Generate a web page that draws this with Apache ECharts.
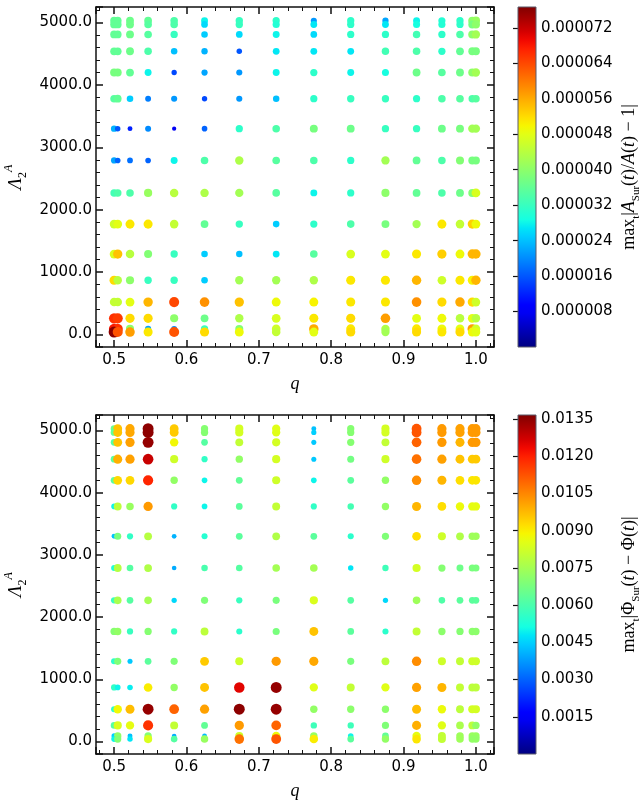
<!DOCTYPE html>
<html>
<head>
<meta charset="utf-8"/>
<title>Surrogate errors</title>
<script src="https://cdn.jsdelivr.net/npm/echarts@6/dist/echarts.min.js"></script>
<style>
    html, body { margin: 0; padding: 0; background: #fff; }
    #main { width: 640px; height: 800px; }
</style>
</head>
<body>
<div id="main"></div>
<script>
// mass ratio columns
var qValues = [0.5, 0.505, 0.522, 0.547, 0.583, 0.625, 0.673, 0.724, 0.776, 0.827, 0.875, 0.918, 0.953, 0.978, 0.995, 1.0];
// tidal deformability rows, top to bottom
var lambdaValues = [5030, 4970, 4810, 4540, 4200, 3780, 3300, 2790, 2270, 1770, 1290, 870, 520, 260, 90, 40];

// max|A_Sur/A - 1|, in units of 1e-6 (one row per lambda value)
var ampErr = [
    [36, 36, 37, 36, 34, 28, 32, 31, 21, 31, 22, 28, 30, 31, 40, 41],
    [36, 36, 37, 35, 34, 26, 32, 30, 27, 31, 27, 29, 30, 31, 38, 40],
    [36, 36, 37, 35, 32, 25, 26, 28, 26, 31, 31, 33, 31, 34, 40, 42],
    [36, 36, 37, 34, 24, 23, 16, 27, 27, 27, 33, 34, 31, 36, 38, 38],
    [38, 38, 36, 28, 15, 22, 21, 28, 31, 28, 29, 37, 35, 37, 40, 42],
    [35, 36, 25, 19, 21, 15, 21, 24, 31, 32, 32, 31, 34, 35, 34, 35],
    [23, 16, 12, 20, 8, 17, 31, 34, 38, 37, 32, 32, 37, 38, 42, 42],
    [22, 17, 18, 17, 28, 34, 43, 35, 34, 31, 42, 36, 34, 39, 38, 38],
    [33, 34, 34, 41, 44, 43, 42, 35, 28, 31, 40, 36, 34, 37, 39, 47],
    [46, 48, 51, 51, 45, 36, 32, 25, 31, 34, 38, 42, 51, 45, 53, 49],
    [47, 54, 44, 39, 32, 25, 24, 27, 35, 47, 48, 51, 53, 49, 55, 55],
    [52, 44, 40, 32, 32, 25, 42, 42, 43, 51, 51, 55, 46, 51, 50, 55],
    [45, 45, 48, 55, 64, 58, 54, 49, 50, 51, 51, 58, 52, 56, 52, 46],
    [66, 65, 52, 52, 40, 37, 43, 47, 51, 52, 57, 48, 49, 44, 48, 44],
    [68, 66, 40, 22, 20, 32, 39, 46, 56, 51, 43, 51, 49, 48, 57, 46],
    [76, 63, 57, 51, 63, 52, 49, 45, 48, 52, 42, 52, 51, 52, 49, 48]
];

// max|Phi_Sur - Phi|, in units of 1e-3
var phaseErr = [
    [6.5, 9.6, 10.0, 13.5, 9.5, 7.0, 8.3, 8.5, 4.3, 7.0, 8.3, 11.2, 10.2, 10.1, 10.2, 10.2],
    [6.4, 9.6, 10.0, 13.5, 9.5, 7.0, 8.3, 8.5, 4.5, 7.0, 8.3, 11.2, 10.2, 10.1, 10.2, 10.2],
    [6.2, 9.6, 10.1, 13.4, 8.8, 6.2, 8.0, 8.3, 4.4, 7.0, 8.0, 11.0, 10.2, 9.8, 10.2, 10.2],
    [6.3, 9.9, 10.1, 12.8, 8.2, 5.6, 7.2, 8.3, 4.4, 6.7, 8.2, 10.8, 10.1, 9.6, 9.5, 9.5],
    [6.3, 9.3, 9.3, 11.9, 7.2, 5.0, 6.4, 8.2, 5.0, 6.3, 7.2, 10.4, 9.8, 9.2, 9.1, 9.1],
    [5.0, 7.9, 7.3, 10.2, 5.6, 5.0, 6.3, 8.0, 5.6, 5.9, 7.2, 9.8, 9.2, 8.7, 8.6, 8.6],
    [4.3, 6.8, 5.6, 7.8, 4.1, 5.4, 6.3, 7.7, 6.3, 5.5, 6.9, 9.2, 8.2, 7.7, 7.4, 7.4],
    [5.3, 7.8, 6.2, 7.7, 4.0, 6.0, 6.2, 7.5, 7.5, 4.8, 5.8, 8.3, 7.0, 6.6, 6.8, 6.8],
    [5.7, 7.6, 6.2, 7.5, 4.6, 6.9, 5.7, 6.8, 8.4, 6.2, 4.6, 7.4, 6.1, 6.3, 6.3, 6.3],
    [7.0, 7.2, 5.7, 7.0, 5.6, 7.9, 5.5, 6.8, 9.6, 6.3, 5.5, 8.0, 7.1, 7.0, 7.1, 7.1],
    [5.5, 6.9, 4.4, 6.3, 6.9, 9.5, 8.2, 10.2, 10.0, 6.8, 7.9, 10.4, 8.2, 8.0, 8.2, 8.2],
    [5.6, 5.0, 4.9, 9.0, 7.2, 9.6, 12.5, 13.4, 8.5, 8.0, 8.5, 10.1, 9.8, 8.0, 7.9, 7.9],
    [5.5, 8.8, 9.7, 13.4, 11.0, 10.1, 13.5, 13.4, 7.2, 7.1, 7.1, 9.7, 8.7, 7.9, 8.3, 8.3],
    [6.2, 8.4, 8.6, 11.7, 8.0, 6.4, 10.2, 11.0, 5.8, 5.8, 6.9, 9.9, 8.5, 7.6, 7.9, 7.2],
    [4.5, 7.2, 4.3, 7.0, 4.0, 4.2, 8.2, 8.7, 7.3, 5.0, 6.4, 8.6, 8.0, 7.4, 7.3, 7.3],
    [5.0, 7.0, 4.8, 8.4, 6.2, 7.3, 10.8, 11.2, 9.0, 6.3, 7.2, 9.1, 8.0, 7.4, 7.2, 7.2]
];

// colorbar ranges and tick steps
var ampRange = [0, 0.0000767];
var ampStep = 0.000008;
var phaseRange = [0, 0.01366];
var phaseStep = 0.0015;

var qRange = [0.475, 1.025];
var lambdaRange = [-200, 5250];

// matplotlib jet colormap
function interp(t, pts) {
    for (var i = 1; i < pts.length; i++) {
        if (t <= pts[i][0]) {
            var a = pts[i - 1], b = pts[i];
            return a[1] + (b[1] - a[1]) * (t - a[0]) / (b[0] - a[0]);
        }
    }
    return pts[pts.length - 1][1];
}
function jet(t) {
    var r = interp(t, [[0, 0], [0.35, 0], [0.66, 1], [0.89, 1], [1, 0.5]]);
    var g = interp(t, [[0, 0], [0.125, 0], [0.375, 1], [0.64, 1], [0.91, 0], [1, 0]]);
    var b = interp(t, [[0, 0.5], [0.11, 1], [0.34, 1], [0.65, 0], [1, 0]]);
    return 'rgb(' + Math.round(r * 255) + ',' + Math.round(g * 255) + ',' + Math.round(b * 255) + ')';
}
var jetColors = [], jetStops = [];
for (var k = 0; k <= 40; k++) {
    jetColors.push(jet(k / 40));
    jetStops.push({offset: k / 40, color: jet(k / 40)});
}

function buildPoints(vals, unit) {
    var pts = [];
    for (var i = 0; i < lambdaValues.length; i++) {
        for (var j = 0; j < qValues.length; j++) {
            pts.push([qValues[j], lambdaValues[i], vals[i][j] * unit]);
        }
    }
    return pts;
}

// marker area grows with the error (as plt.scatter s=...)
function ampSize(d) { return Math.sqrt(Math.max(1.5 * d[2] * 1e6 + 6, 12)); }
function phaseSize(d) { return Math.sqrt(Math.max(10.4 * d[2] * 1e3 - 20, 14)); }

// colorbar: one rect from range[0] to range[1], placed by the axes
function colorbarItem(params, api) {
    var p0 = api.coord([0, api.value(1)]);
    var p1 = api.coord([1, api.value(2)]);
    return {
        type: 'rect',
        shape: {x: p0[0], y: p1[1], width: p1[0] - p0[0], height: p0[1] - p1[1]},
        style: {
            fill: new echarts.graphic.LinearGradient(0, 1, 0, 0, jetStops),
            stroke: '#5a5a6a', lineWidth: 1
        }
    };
}

var tickFont = {fontFamily: 'DejaVu Sans', fontSize: 15, color: '#000'};
var lineStyle = {color: '#111', width: 1.5};

function xAxes(gridIndex) {
    var base = {
        type: 'value', gridIndex: gridIndex, min: qRange[0], max: qRange[1],
        axisLine: {show: true, onZero: false, lineStyle: lineStyle},
        axisTick: {show: true, inside: true, length: 7, lineStyle: {color: '#111', width: 1.5}},
        minorTick: {show: true, splitNumber: 5, length: 4, lineStyle: {color: '#111', width: 1}},
        splitLine: {show: false}
    };
    var bottom = Object.assign({}, base, {
        position: 'bottom',
        name: 'q', nameLocation: 'middle', nameGap: 28,
        nameTextStyle: {fontFamily: 'Liberation Serif', fontStyle: 'italic', fontSize: 18, color: '#000'},
        axisLabel: Object.assign({}, tickFont, {
            margin: 6, showMinLabel: false, showMaxLabel: false,
            formatter: function (v) { return Math.abs(v * 10 - Math.round(v * 10)) < 1e-6 ? v.toFixed(1) : ''; }
        })
    });
    var top = Object.assign({}, base, {position: 'top', axisLabel: {show: false}});
    return [bottom, top];
}

function yAxes(gridIndex) {
    var base = {
        type: 'value', gridIndex: gridIndex, min: lambdaRange[0], max: lambdaRange[1],
        axisLine: {show: true, onZero: false, lineStyle: lineStyle},
        axisTick: {show: true, inside: true, length: 7, lineStyle: {color: '#111', width: 1.5}},
        minorTick: {show: true, splitNumber: 5, length: 4, lineStyle: {color: '#111', width: 1}},
        splitLine: {show: false}
    };
    var left = Object.assign({}, base, {
        position: 'left',
        name: '{a|Λ}{s|2}{p|A}', nameLocation: 'middle', nameGap: 62, nameRotate: 90,
        nameTextStyle: {
            rich: {
                a: {fontFamily: 'Liberation Serif', fontStyle: 'italic', fontSize: 19, color: '#000', lineHeight: 26},
                s: {fontFamily: 'Liberation Serif', fontSize: 12, color: '#000', verticalAlign: 'bottom'},
                p: {fontFamily: 'Liberation Serif', fontStyle: 'italic', fontSize: 12, color: '#000', verticalAlign: 'top'}
            }
        },
        axisLabel: Object.assign({}, tickFont, {
            margin: 4, showMinLabel: false, showMaxLabel: false,
            formatter: function (v) { return Math.abs(v / 1000 - Math.round(v / 1000)) < 1e-6 ? v.toFixed(1) : ''; }
        })
    });
    var right = Object.assign({}, base, {position: 'right', axisLabel: {show: false}});
    return [left, right];
}

function cbAxis(gridIndex, range, step, digits, name, rich) {
    return {
        type: 'value', gridIndex: gridIndex, position: 'right',
        min: range[0], max: range[1], interval: step,
        axisLine: {show: false},
        axisTick: {show: true, inside: true, length: 5, lineStyle: {color: '#111', width: 1.2}},
        splitLine: {show: false},
        axisLabel: Object.assign({}, tickFont, {
            margin: 5, showMinLabel: false, showMaxLabel: false,
            formatter: function (v) { return v < 1e-12 ? '' : v.toFixed(digits); }
        }),
        name: name, nameLocation: 'middle', nameRotate: 90, nameGap: 80,
        nameTextStyle: {rich: rich}
    };
}

var nameRich = {
    r: {fontFamily: 'Liberation Serif', fontSize: 18, color: '#000', lineHeight: 26},
    i: {fontFamily: 'Liberation Serif', fontStyle: 'italic', fontSize: 18, color: '#000', lineHeight: 26},
    s: {fontFamily: 'Liberation Serif', fontSize: 11, color: '#000', verticalAlign: 'bottom'}
};

var chart = echarts.init(document.getElementById('main'), null, {renderer: 'canvas'});

var xs = xAxes(0).concat(xAxes(1)).concat([
    {type: 'value', gridIndex: 2, min: 0, max: 1, show: false},
    {type: 'value', gridIndex: 3, min: 0, max: 1, show: false}
]);
var ys = yAxes(0).concat(yAxes(1)).concat([
    cbAxis(2, ampRange, ampStep, 6,
        '{r|max}{s|t}{r||}{i|A}{s|Sur}{r|(}{i|t}{r|)/}{i|A}{r|(}{i|t}{r|) − 1|}', nameRich),
    cbAxis(3, phaseRange, phaseStep, 4,
        '{r|max}{s|t}{r||Φ}{s|Sur}{r|(}{i|t}{r|) − Φ(}{i|t}{r|)|}', nameRich)
]);

var option = {
    backgroundColor: '#fff',
    animation: false,
    grid: [
        {left: 96, top: 7, width: 398, height: 340, outerBoundsMode: 'none'},
        {left: 96, top: 415, width: 398, height: 339, outerBoundsMode: 'none'},
        {left: 518, top: 7, width: 18, height: 340, outerBoundsMode: 'none'},
        {left: 518, top: 415, width: 18, height: 339, outerBoundsMode: 'none'}
    ],
    xAxis: xs,
    yAxis: ys,
    visualMap: [
        {
            show: false, type: 'continuous', seriesIndex: 0, dimension: 2,
            min: ampRange[0], max: ampRange[1],
            inRange: {color: jetColors}
        },
        {
            show: false, type: 'continuous', seriesIndex: 1, dimension: 2,
            min: phaseRange[0], max: phaseRange[1],
            inRange: {color: jetColors}
        }
    ],
    series: [
        {
            type: 'scatter', xAxisIndex: 0, yAxisIndex: 0,
            symbol: 'circle', symbolSize: ampSize, itemStyle: {opacity: 1},
            data: buildPoints(ampErr, 1e-6)
        },
        {
            type: 'scatter', xAxisIndex: 2, yAxisIndex: 2,
            symbol: 'circle', symbolSize: phaseSize, itemStyle: {opacity: 1},
            data: buildPoints(phaseErr, 1e-3)
        },
        {
            type: 'custom', xAxisIndex: 4, yAxisIndex: 4,
            renderItem: colorbarItem,
            encode: {x: 0, y: [1, 2]},
            data: [[0, ampRange[0], ampRange[1]]]
        },
        {
            type: 'custom', xAxisIndex: 5, yAxisIndex: 5,
            renderItem: colorbarItem,
            encode: {x: 0, y: [1, 2]},
            data: [[0, phaseRange[0], phaseRange[1]]]
        }
    ]
};
chart.setOption(option);

window.onresize = function () {
    chart.resize();
};
</script>
</body>
</html>
